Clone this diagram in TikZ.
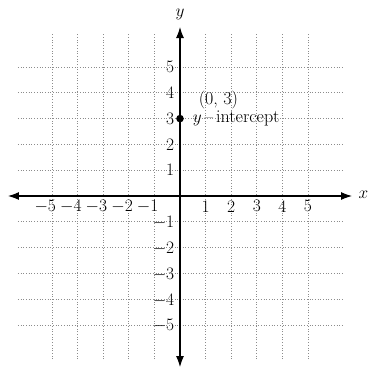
\documentclass[tikz,border=0pt]{standalone}
\usetikzlibrary{arrows.meta}
\begin{document}
\begin{tikzpicture}[x=25.6pt,y=25.8pt,
  gridline/.style={gray!90,dotted,line width=0.7pt},
  axis/.style={line width=1.1pt,{Latex[length=11pt,width=8pt]}-{Latex[length=11pt,width=8pt]}},
  lbl/.style={font=\fontsize{18}{20}\selectfont,inner sep=0pt},
  ticklbl/.style={font=\fontsize{17.5}{20}\selectfont,inner sep=0pt}]
\useasboundingbox (-7.031,-6.667) rectangle (7.383,7.597);
% grid
\foreach \i in {-5,...,-1,1,2,3,4,5}{
  \draw[gridline] (\i,-6.32) -- (\i,6.32);
  \draw[gridline] (-6.33,\i) -- (6.37,\i);
}
% axes
\coordinate (xl) at (-6.72,0);
\coordinate (xr) at (6.72,0);
\coordinate (yt) at (0,6.55);
\coordinate (yb) at (0,-6.63);
\draw[axis] (xl) -- (xr);
\draw[axis] (yb) -- (yt);
\node[lbl,font=\fontsize{19}{20}\selectfont] (xlab) at (7.17,0.05) {$x$};
\node[lbl,font=\fontsize{19}{20}\selectfont] (ylab) at (0,7.05) {$y$};
% x tick labels
\foreach \i in {1,...,5}{
  \node[ticklbl] (xp\i) at (\i,-0.4) {\i};
  \node[ticklbl] (xn\i) at (-\i,-0.4) {\makebox[0pt][r]{$-$}\i};
}
% y tick labels
\foreach \i in {1,...,5}{
  \node[ticklbl] (yp\i) at (-0.38,\i) {\i};
  \node[ticklbl] (yn\i) at (-0.38,-\i-0.03) {\makebox[0pt][r]{$-$}\i};
}
% point
\fill (0,3) circle (3.8pt);
\node[lbl] (pt) at (1.5,3.72) {(0, 3)};
\node[lbl,anchor=west] (yint) at (0.5,3.0) {$y$\,--\,intercept};
\end{tikzpicture}
\end{document}
